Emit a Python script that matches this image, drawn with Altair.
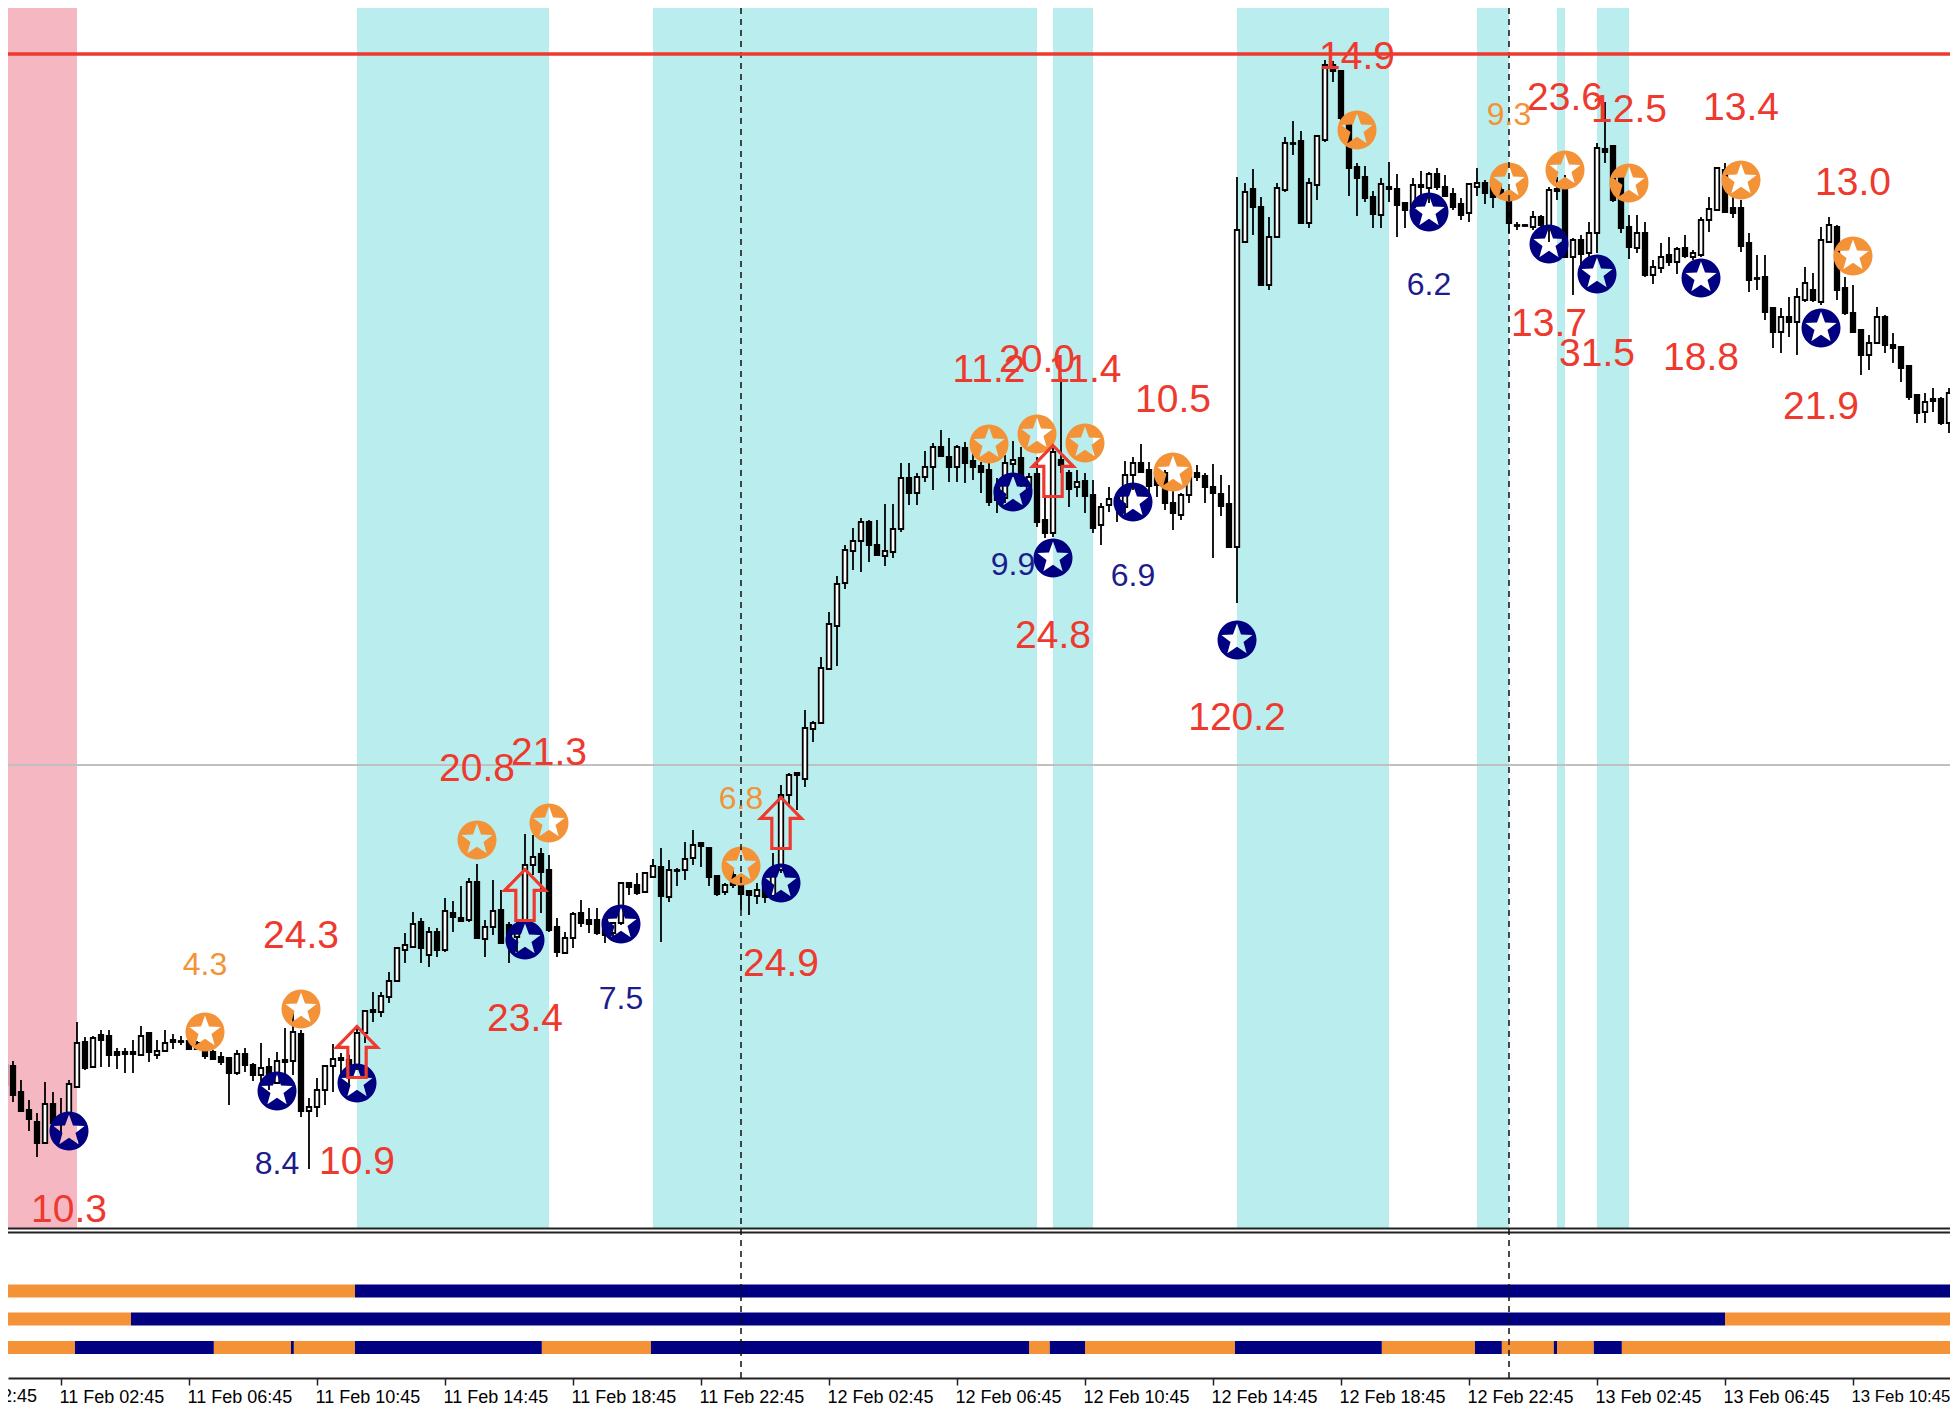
import math
import altair as alt
import pandas as pd

# ---- candles (15 minute bars); levels run downward ----
body_top = [
1065,1066,1092,1110,1122,1104,1104,1117,1084,1043,
1042,1038,1035,1036,1052,1052,1052,1036,1033,1051,
1043,1040,1041,1041,1043,1050,1052,1057,1058,1054,
1054,1065,1068,1067,1061,1060,1032,1034,1107,1090,
1066,1059,1058,1060,1033,1011,1010,996,981,948,
945,924,922,932,932,911,913,918,882,882,
927,911,910,925,932,865,857,854,870,927,
938,914,913,920,920,920,923,883,883,885,
873,866,867,870,870,859,845,843,848,876,
885,875,886,891,890,887,875,795,775,773,
728,723,668,624,584,550,541,522,522,545,
551,529,478,478,477,467,447,447,457,447,
448,461,466,470,488,463,460,458,477,474,
520,452,460,473,482,481,495,507,499,498,
475,463,463,470,473,473,503,495,477,473,
476,487,494,504,230,192,189,207,237,188,
143,143,141,183,136,65,65,71,120,167,
177,197,184,187,189,203,185,185,174,174,
187,194,204,184,183,183,187,190,202,225,
225,217,217,190,189,190,240,240,233,148,
149,146,177,227,233,233,267,257,255,249,
248,253,220,209,168,170,208,208,243,278,
277,308,317,317,297,283,290,240,225,227,
288,313,330,343,317,317,345,347,366,395,
402,399,399,393,382]
body_bottom = [
1085,1095,1111,1119,1143,1143,1123,1123,1113,1087,
1068,1067,1040,1055,1055,1054,1054,1055,1052,1055,
1051,1042,1042,1049,1049,1056,1059,1062,1073,1073,
1065,1075,1075,1074,1083,1062,1061,1111,1111,1107,
1090,1066,1060,1075,1066,1033,1012,1012,997,981,
950,947,948,955,950,950,917,921,920,938,
939,927,943,942,937,920,865,872,930,952,
953,938,923,924,933,935,933,923,887,893,
892,877,896,897,871,870,858,846,877,894,
892,885,894,895,896,897,896,870,795,775,
779,729,723,669,626,583,551,541,545,555,
556,552,529,493,493,477,467,456,467,467,
463,467,472,502,500,498,464,480,490,522,
533,533,465,489,487,496,528,525,505,505,
507,475,472,486,485,503,513,515,495,477,
487,493,506,547,547,242,207,285,285,237,
190,144,223,223,185,140,71,118,168,178,
198,214,215,189,205,210,207,187,188,187,
196,207,215,213,187,193,197,195,223,226,
226,227,225,227,191,257,257,254,253,233,
152,200,228,247,248,275,275,268,262,262,
256,257,255,220,210,212,213,246,280,279,
312,332,332,322,322,300,300,302,242,290,
313,332,355,355,343,345,348,368,397,413,
412,401,423,423,393]
wick_top = [
1057,1061,1080,1100,1113,1082,1092,1098,1080,1022,
1037,1036,1030,1030,1048,1048,1040,1026,1032,1040,
1030,1034,1036,1037,1041,1047,1050,1052,1057,1050,
1048,1063,1043,1058,1052,1028,1012,1030,1098,1078,
1065,1044,1053,1055,1027,1010,992,992,972,948,
933,912,918,927,928,898,901,886,878,864,
920,880,890,922,922,834,835,848,855,918,
932,912,900,908,908,915,922,883,882,873,
872,859,848,860,868,842,830,842,847,875,
883,870,883,890,883,880,853,785,773,772,
710,721,657,612,576,545,528,518,520,520,
504,504,463,463,473,451,443,430,438,445,
442,448,462,457,478,455,441,447,473,457,
497,448,377,470,470,473,480,503,487,497,
461,457,444,462,470,470,490,493,473,465,
473,464,475,485,177,183,169,197,217,183,
137,121,131,178,135,60,61,71,118,163,
166,191,178,162,174,203,178,171,172,168,
175,188,198,183,168,180,180,184,193,222,
224,211,215,187,177,175,238,235,222,143,
102,146,173,215,215,222,260,243,237,247,
235,250,217,197,167,163,197,200,233,255,
255,307,308,297,288,267,273,227,217,225,
277,285,330,335,307,315,333,347,365,395,
393,388,397,388,373]
wick_bottom = [
1086,1102,1112,1131,1157,1143,1135,1135,1115,1087,
1070,1067,1067,1067,1069,1073,1073,1055,1062,1059,
1052,1049,1045,1050,1050,1059,1060,1065,1105,1075,
1072,1081,1082,1090,1083,1075,1075,1117,1169,1117,
1105,1092,1075,1085,1070,1043,1022,1017,1003,981,
963,948,963,967,957,952,932,921,922,938,
957,935,944,963,952,922,875,913,932,957,
953,948,927,933,935,943,940,925,895,895,
893,878,942,902,886,880,865,867,886,896,
895,888,910,915,904,903,897,873,805,810,
787,742,723,669,666,589,570,572,562,556,
566,558,532,505,505,482,490,456,482,482,
483,480,493,506,513,503,477,487,500,527,
538,537,473,507,497,513,533,545,512,522,
517,490,472,498,497,510,530,520,503,481,
503,558,516,548,603,243,235,286,290,237,
192,155,224,228,200,142,82,120,196,216,
202,228,228,202,237,228,207,200,203,190,
197,210,220,222,196,204,208,195,233,230,
226,230,233,242,200,258,295,273,267,253,
163,202,233,259,253,277,284,273,266,274,
258,260,257,232,211,213,218,252,292,290,
320,348,353,337,355,302,302,305,243,300,
315,332,375,370,343,353,363,382,400,423,
423,412,425,433,398]
is_up = [
1,0,0,0,0,1,0,0,1,1,
0,1,0,0,0,0,0,1,0,1,
1,0,0,0,0,0,0,0,0,1,
0,0,1,0,1,0,1,0,1,1,
1,1,0,0,1,1,0,1,1,1,
1,1,0,1,0,1,0,0,1,0,
1,1,0,0,1,1,1,0,0,0,
1,1,0,0,0,0,1,1,0,0,
1,1,0,1,1,1,1,0,0,0,
1,0,0,0,1,0,1,1,1,0,
1,1,1,1,1,1,1,1,0,0,
1,1,1,0,1,1,1,0,0,1,
0,0,0,0,0,1,1,0,1,0,
0,1,0,0,1,0,0,1,1,0,
1,1,0,0,0,0,0,1,1,0,
0,0,0,0,1,1,0,0,1,1,
1,1,0,1,1,1,0,0,0,0,
0,0,1,0,0,0,1,0,1,0,
0,0,0,1,1,0,0,0,0,1,
1,1,0,1,1,0,1,0,1,1,
0,0,0,0,1,0,1,1,0,1,
0,1,1,1,1,0,0,0,0,1,
0,0,1,0,1,1,0,1,1,0,
0,0,0,1,1,0,0,0,0,0,
1,0,0,1,1]

# ---- shaded sessions (bar numbers) ----
pink_start = [-1]
pink_end = [9]
cyan_start = [44, 81, 131, 154, 184, 194, 199]
cyan_end = [68, 129, 136, 173, 188, 195, 203]

# ---- signal markers ----
navy_bar = [8, 34, 44, 65, 77, 97, 126, 131, 141, 154, 178, 193, 199, 212, 227]
navy_level = [1131, 1091, 1083, 940, 924, 883, 492, 558, 502, 640, 212, 244, 274, 278, 328]
orange_bar = [25, 37, 59, 68, 92, 123, 129, 135, 146, 169, 188, 195, 203, 217, 231]
orange_level = [1032, 1009, 840, 823, 866, 444, 434, 443, 472, 130, 182, 170, 183, 180, 256]
arrow_bar = [44, 65, 97, 131]
arrow_level = [1052, 895, 823, 471]

# ---- labels ----
red_bar = [8, 37, 44, 59, 68, 65, 97, 123, 129, 135, 146, 131, 154, 169, 195, 203, 217, 231, 193, 199, 212, 227]
red_level = [1209, 935, 1161, 768, 752, 1018, 963, 369, 359, 369, 399, 635, 717, 56, 97, 109, 107, 182, 323, 353, 357, 406]
red_text = ["10.3", "24.3", "10.9", "20.8", "21.3", "23.4", "24.9", "11.2", "20.0", "11.4", "10.5", "24.8",
            "120.2", "14.9", "23.6", "12.5", "13.4", "13.0", "13.7", "31.5", "18.8", "21.9"]
blue_bar = [34, 77, 126, 141, 178]
blue_level = [1163, 998, 564, 575, 284]
blue_text = ["8.4", "7.5", "9.9", "6.9", "6.2"]
amber_bar = [25, 92, 188]
amber_level = [964, 798, 114]
amber_text = ["4.3", "6.8", "9.3"]

# ---- horizontal and vertical guides ----
red_line = [54]
grey_line = [765]
dash_bar = [92, 188]
separators = [1228.5, 1232.5]

# ---- lower indicator strips: edges in bar numbers and state per segment ----
strip1_edges = [-1, 43.75, 245]
strip1_state = ["o", "n"]
strip2_edges = [-1, 15.75, 215, 245]
strip2_state = ["o", "n", "o"]
strip3_edges = [-1, 8.75, 26.1, 35.75, 36.1, 43.75, 67.1, 80.75, 128, 130.6, 135, 153.75,
                172.1, 183.75, 187.1, 193.6, 194, 198.6, 202.1, 245]
strip3_state = ["o", "n", "o", "n", "o", "n", "o", "n", "o", "n", "o", "n", "o", "n", "o", "n", "o", "n", "o"]
strip_rows = [1291, 1319, 1347.5]

tick_bars = [7, 23, 39, 55, 71, 87, 103, 119, 135, 151, 167, 183, 199, 215, 231]
tick_labels = ["11 Feb 02:45", "11 Feb 06:45", "11 Feb 10:45", "11 Feb 14:45", "11 Feb 18:45",
               "11 Feb 22:45", "12 Feb 02:45", "12 Feb 06:45", "12 Feb 10:45", "12 Feb 14:45", "12 Feb 18:45",
               "12 Feb 22:45", "13 Feb 02:45", "13 Feb 06:45", "13 Feb 10:45"]
# the first time label sits mostly off the left edge of the window
edge_label_bar = [-9.25]
edge_label_level = [1397]
edge_label_text = ["10 Feb 22:45"]

NAVY = "#000080"
ORANGE = "#F39237"
RED = "#EE3A2E"
CYAN = "#BAEDED"
PINK = "#F5B8C2"
FONT = "Liberation Sans"

x_scale = alt.Scale(domain=[0.375, 243.125], nice=False, zero=False, padding=0)
y_scale = alt.Scale(domain=[1378, 8], nice=False, zero=False, padding=0)

x_axis = alt.Axis(
    values=tick_bars,
    labelExpr="[" + ",".join(f"'{t}'" for t in tick_labels) + "][(datum.value-7)/16]",
    labelAlign="left", labelBaseline="top", labelFont=FONT,
    labelFontSize={"condition": {"test": "datum.value == 231", "value": 16.8}, "value": 18},
    labelColor="#000000",
    labelPadding=3, labelOffset=-2, labelOverlap=False, labelFlush=False, labelBound=False,
    tickSize=7, tickWidth=1.5, tickColor="#222222", domainColor="#222222", domainWidth=2, grid=False, title=None)


def X(field="bar"):
    return alt.X(f"{field}:Q", scale=x_scale, axis=x_axis, title=None)


def Y(field="level"):
    return alt.Y(f"{field}:Q", scale=y_scale, axis=None, title=None)


def badge_shape():
    pts = []
    for i in range(48):
        a = 2 * math.pi * i / 48
        pts.append((math.cos(a), math.sin(a)))
    d = "M" + " L".join(f"{p[0]:.3f} {p[1]:.3f}" for p in pts) + " Z "
    star = []
    for i in range(10):
        a = -math.pi / 2 - i * math.pi / 5
        r = 0.84 if i % 2 == 0 else 0.35
        star.append((r * math.cos(a), r * math.sin(a)))
    return d + "M" + " L".join(f"{p[0]:.3f} {p[1]:.3f}" for p in star) + " Z"


ARROW = "M0 -1 L0.8 -0.18 L0.36 -0.18 L0.36 1 L-0.36 1 L-0.36 -0.18 L-0.8 -0.18 Z"
BADGE = badge_shape()

bars = list(range(len(body_top)))
candles = pd.DataFrame({"bar": bars, "bt": body_top, "bb": body_bottom, "wt": wick_top, "wb": wick_bottom, "up": is_up})


def band_layer(starts, ends, color):
    df = pd.DataFrame({"bar": starts, "bar2": ends, "top": 8, "bottom": 1228})
    return alt.Chart(df).mark_rect(color=color).encode(x=X(), x2="bar2:Q", y=Y("top"), y2="bottom:Q")


def hline(levels, color, width):
    return alt.Chart(pd.DataFrame({"level": levels})).mark_rule(color=color, strokeWidth=width).encode(y=Y())


strips = []
for row, edges, state in zip(strip_rows, [strip1_edges, strip2_edges, strip3_edges],
                             [strip1_state, strip2_state, strip3_state]):
    strips.append(pd.DataFrame({"bar": edges[:-1], "bar2": edges[1:], "state": state,
                                "top": row - 6.5, "bottom": row + 6.5}))
strip_df = pd.concat(strips)


def strip_layer(state, color):
    return alt.Chart(strip_df[strip_df.state == state]).mark_rect(color=color).encode(
        x=X(), x2="bar2:Q", y=Y("top"), y2="bottom:Q")


dash_df = pd.DataFrame({"bar": dash_bar, "top": 8, "bottom": 1378})
dash_layer = alt.Chart(dash_df).mark_rule(color="#111111", strokeWidth=1.5, strokeDash=[6, 5]).encode(
    x=X(), y=Y("top"), y2="bottom:Q")

wicks = alt.Chart(candles).mark_rule(color="#000000", strokeWidth=1.8).encode(x=X(), y=Y("wt"), y2="wb:Q")
bodies = alt.Chart(candles).mark_bar(size=4.5, stroke="#000000", strokeWidth=1.8, orient="vertical").encode(
    x=X(), y=Y("bt"), y2="bb:Q",
    fill=alt.Fill("up:N", scale=alt.Scale(domain=[0, 1], range=["#000000", "#FFFFFF"]), legend=None),
)


def badges(bar, level, color):
    df = pd.DataFrame({"bar": bar, "level": level})
    return alt.Chart(df).mark_point(shape=BADGE, filled=True, size=1521, color=color, opacity=1,
                                    strokeWidth=0).encode(x=X(), y=Y())


arrows = alt.Chart(pd.DataFrame({"bar": arrow_bar, "level": arrow_level})).mark_point(
    shape=ARROW, filled=False, size=2601, color=RED, strokeWidth=3.2, opacity=1).encode(x=X(), y=Y())


def labels(bar, level, text, color, size):
    df = pd.DataFrame({"bar": bar, "level": level, "label": text})
    return alt.Chart(df).mark_text(font=FONT, fontSize=size, color=color, baseline="middle", align="center",
                                   dy=1).encode(x=X(), y=Y(), text="label:N")


edge_label = alt.Chart(pd.DataFrame({"bar": edge_label_bar, "level": edge_label_level, "label": edge_label_text})
                       ).mark_text(font=FONT, fontSize=18, color="#000000", baseline="middle", align="left").encode(
    x=X(), y=Y(), text="label:N")

chart = alt.layer(
    band_layer(pink_start, pink_end, PINK),
    band_layer(cyan_start, cyan_end, CYAN),
    hline(grey_line, "#C0C0C0", 2),
    wicks,
    bodies,
    badges(navy_bar, navy_level, NAVY),
    badges(orange_bar, orange_level, ORANGE),
    arrows,
    strip_layer("o", ORANGE),
    strip_layer("n", NAVY),
    hline(separators, "#222222", 1.8),
    dash_layer,
    hline(red_line, RED, 3.5),
    labels(red_bar, red_level, red_text, RED, 39),
    labels(blue_bar, blue_level, blue_text, "#1C1C8C", 32),
    labels(amber_bar, amber_level, amber_text, ORANGE, 32),
    edge_label,
).properties(
    width=1942,
    height=1370,
    autosize=alt.AutoSizeParams(type="none"),
    padding={"left": 0, "top": 0, "right": 0, "bottom": 32},
    background="#FFFFFF",
).configure_view(stroke=None)

chart.save("out.html", embed_options={"renderer": "svg", "actions": False})
